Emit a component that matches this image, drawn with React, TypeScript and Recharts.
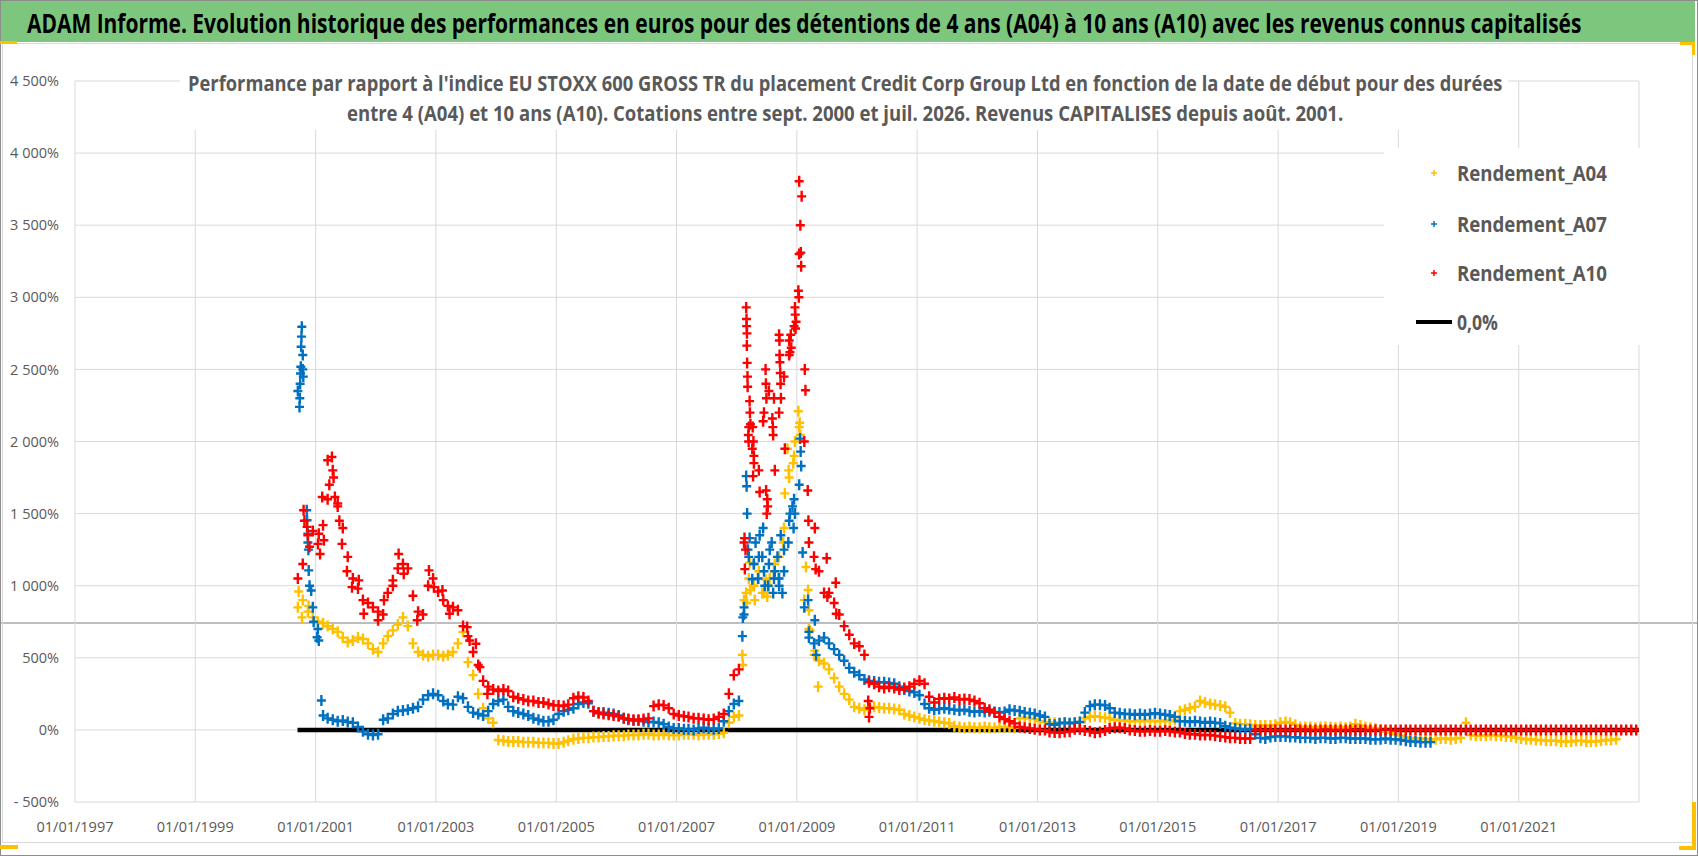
import { useLayoutEffect, useRef, useState } from "react";
import { ComposedChart, Scatter, Line, XAxis, YAxis, CartesianGrid } from "recharts";

// ---- data (monthly values, % vs the index) ----
const SERIES_START = "2000-09"; // first month of every series

const A04 = [
  850, 900, 820, 780,
  750, 740, 720, 700, 680, 640, 610, 620, 640, 630, 600, 560,
  540, 600, 650, 690, 730, 780, 720, 600, 540, 520, 510, 520,
  520, 510, 520, 540, 600, 680, 470, 380, 250, 150, 80, 50,
  -70, -75, -80, -80, -80, -85, -85, -85, -90, -90, -90, -95,
  -95, -85, -75, -65, -60, -55, -55, -50, -50, -45, -45, -40,
  -40, -40, -35, -35, -35, -30, -30, -35, -35, -30, -35, -35,
  -35, -30, -30, -30, -35, -30, -30, -30, -25, -20, 50, 90,
  100, 900, 1050, 1000, 1050, 950, 1000, 1100, 1200, 1400, 1750, 1900,
  2100, 900, 700, 520, 480, 460, 420, 360, 300, 250, 210, 160,
  150, 140, 155, 160, 155, 150, 150, 145, 140, 110, 100, 90,
  80, 70, 65, 60, 55, 50, 45, 25, 20, 15, 20, 15,
  15, 20, 15, 15, 20, 20, 20, 15, 80, 85, 80, 75,
  60, 55, 50, 50, 50, 50, 50, 50, 55, 80, 90, 95,
  90, 85, 80, 70, 65, 65, 60, 60, 65, 60, 65, 60,
  60, 65, 60, 70, 130, 140, 150, 160, 200, 190, 180, 175,
  170, 160, 120, 45, 40, 40, 35, 30, 30, 30, 30, 35,
  50, 55, 50, 35, 20, 20, 20, 15, 20, 20, 20, 15,
  20, 15, 20, 40, 30, 20, 15, 10, 0, -10, -20, -30,
  -40, -50, -55, -60, -60, -65, -65, -65, -60, -60, -65, -60,
  -55, 50, -35, -40, -40, -40, -35, -40, -40, -45, -45, -55,
  -60, -65, -65, -70, -70, -75, -75, -75, -80, -80, -80, -75,
  -75, -80, -80, -80, -75, -70, -70, -65,
];

const A07 = [
  2350, 2600, 1300, 850,
  700, 100, 80, 70, 60, 65, 55, 50, 20, -10, -30, -35,
  -30, 70, 80, 110, 130, 135, 140, 150, 160, 210, 240, 250,
  240, 200, 180, 175, 230, 220, 160, 120, 110, 100, 130, 180,
  200, 210, 160, 130, 120, 110, 100, 80, 70, 60, 60, 70,
  110, 130, 140, 150, 180, 190, 185, 130, 120, 120, 115, 110,
  100, 80, 70, 65, 65, 60, 55, 55, 50, 40, 20, 10,
  10, 5, 5, 0, 10, 15, 10, 5, 10, 60, 130, 180,
  200, 800, 1200, 1150, 1200, 1100, 1150, 1050, 1000, 1250, 1450, 1600,
  1700, 850, 640, 600, 620, 640, 600, 560, 520, 480, 430, 400,
  380, 350, 340, 335, 330, 330, 325, 320, 300, 280, 270, 260,
  240, 180, 150, 140, 145, 150, 145, 140, 135, 140, 130, 125,
  130, 125, 130, 125, 120, 125, 140, 135, 130, 120, 115, 110,
  100, 90, 40, 35, 45, 50, 45, 50, 55, 120, 165, 175,
  175, 170, 150, 120, 115, 110, 110, 105, 110, 105, 110, 115,
  110, 105, 100, 90, 60, 60, 55, 60, 55, 50, 55, 50,
  45, 25, 15, 10, 5, 0, 5, -30, -55, -60, -50, -45,
  -45, -45, -50, -50, -55, -55, -55, -60, -55, -55, -60, -60,
  -55, -55, -60, -60, -60, -60, -65, -65, -65, -60, -65, -65,
  -70, -75, -80, -80, -85, -85, -85,
];

const A10 = [
  1050, 1150, 1350, 1380,
  1290, 1420, 1600, 1800, 1550, 1400, 1200, 1050, 980, 900, 880, 850,
  820, 800, 950, 1000, 1120, 1150, 1120, 930, 820, 800, 1000, 1050,
  960, 900, 860, 850, 830, 720, 650, 540, 450, 340, 300, 280,
  270, 280, 270, 230, 220, 210, 200, 200, 190, 190, 180, 170,
  170, 165, 175, 220, 230, 225, 200, 130, 115, 110, 105, 100,
  95, 80, 75, 70, 70, 75, 80, 165, 175, 170, 150, 110,
  100, 95, 90, 80, 80, 75, 70, 75, 90, 110, 250, 380,
  420, 1300, 2100, 1900, 1800, 2200, 2350, 2300, 2200, 2450, 2600, 2800,
  3300, 2000, 1300, 1200, 1100, 950, 950, 880, 800, 720, 660, 600,
  580, 520, 330, 320, 300, 290, 300, 290, 280, 290, 300, 320,
  340, 320, 230, 190, 215, 220, 215, 225, 210, 215, 210, 200,
  185, 150, 140, 120, 90, 75, 60, 45, 20, 15, 10, 5,
  0, 0, -15, -18, -20, -15, -12, 5, 5, -5, -10, -20,
  -15, -5, 10, 15, 15, 10, 0, -5, -10, -10, -5, -10,
  -10, -5, -10, -15, -15, -25, -30, -30, -35, -35, -35, -40,
  -45, -50, -55, -55, -60, -60, -60, 0, 0, 0, 0, 0,
  0, 0, 0, 0, 0, 0, 0, 0, 0, 0, 0, 0,
  0, 0, 0, 0, 0, 0, 0, 0, 0, 0, 0, 0,
  0, 0, 0, 0, 0, 0, 0, 0, 0, 0, 0, 0,
  0, 0, 0, 0, 0, 0, 0, 0, 0, 0, 0, 0,
  0, 0, 0, 0, 0, 0, 0, 0, 0, 0, 0, 0,
  0, 0, 0, 0, 0, 0, 0, 0, 0, 0, 0, 0,
];

// scattered points outside the main band (volatile periods)
const A04_SCATTER: [string, number][] = [
  ["2000-09-20", 960], ["2000-10-10", 780], ["2000-11-20", 860],
  ["2008-02-05", 520], ["2008-02-08", 450], ["2008-02-28", 950], ["2008-03-02", 880],
  ["2008-03-20", 1160], ["2008-03-25", 970], ["2008-04-10", 1000], ["2008-04-20", 900],
  ["2008-05-15", 1100], ["2008-06-05", 950], ["2008-06-25", 1045], ["2008-07-05", 925],
  ["2008-07-20", 1050], ["2008-08-20", 1150], ["2008-09-10", 1050], ["2008-10-10", 1300],
  ["2008-10-20", 1640], ["2008-11-05", 1950], ["2008-11-12", 1800], ["2008-12-10", 1850],
  ["2008-12-20", 2000], ["2009-01-10", 2210], ["2009-01-18", 2130], ["2009-01-22", 2045],
  ["2009-02-25", 1130], ["2009-03-10", 970], ["2009-03-15", 830], ["2009-03-22", 690],
  ["2009-04-20", 550], ["2009-05-10", 300],
];

const A07_SCATTER: [string, number][] = [
  ["2000-09-25", 2240], ["2000-09-27", 2300], ["2000-09-29", 2400], ["2000-10-01", 2472],
  ["2000-10-03", 2518], ["2000-10-05", 2657], ["2000-10-07", 2727], ["2000-10-09", 2796],
  ["2000-10-15", 2500], ["2000-10-18", 2450], ["2000-11-08", 1523], ["2000-11-10", 1454],
  ["2000-11-15", 1360], ["2000-11-18", 1250], ["2000-11-20", 1106], ["2000-11-25", 1000],
  ["2000-12-05", 967], ["2000-12-20", 750], ["2001-01-10", 643], ["2001-01-20", 620],
  ["2001-02-05", 204],
  ["2008-02-05", 650], ["2008-02-08", 780], ["2008-02-15", 850], ["2008-02-28", 1760],
  ["2008-03-02", 1690], ["2008-03-05", 1500], ["2008-03-10", 1250], ["2008-03-20", 1330],
  ["2008-04-05", 1045], ["2008-04-15", 1150], ["2008-04-25", 1300], ["2008-05-10", 1050],
  ["2008-05-20", 1350], ["2008-06-05", 1200], ["2008-06-10", 1400], ["2008-06-20", 1000],
  ["2008-07-10", 1000], ["2008-07-20", 1250], ["2008-08-01", 1300], ["2008-08-10", 950],
  ["2008-08-20", 1100], ["2008-09-05", 1200], ["2008-09-15", 1050], ["2008-09-25", 1350],
  ["2008-10-05", 950], ["2008-10-15", 1100], ["2008-11-10", 1300], ["2008-11-20", 1500],
  ["2008-12-05", 1550], ["2008-12-12", 1400], ["2008-12-20", 1500],
  ["2009-01-20", 2020], ["2009-01-24", 1930], ["2009-01-27", 1830], ["2009-02-05", 1230],
  ["2009-03-10", 900], ["2009-03-15", 680], ["2009-04-20", 760], ["2009-04-28", 520],
];

const A10_SCATTER: [string, number][] = [
  ["2000-10-20", 1523], ["2000-10-25", 1450], ["2000-11-10", 1408], ["2000-11-25", 1270],
  ["2001-01-20", 1360], ["2001-01-28", 1220], ["2001-02-10", 1615], ["2001-02-20", 1315],
  ["2001-03-15", 1870], ["2001-03-25", 1700], ["2001-04-10", 1893], ["2001-04-20", 1750],
  ["2001-04-28", 1615], ["2001-05-15", 1570], ["2001-05-25", 1450], ["2001-06-10", 1290],
  ["2001-07-10", 1100], ["2001-08-10", 990], ["2001-09-20", 1037], ["2001-10-20", 805],
  ["2002-01-15", 760], ["2002-02-20", 900], ["2002-04-15", 1037], ["2002-05-20", 1220],
  ["2002-06-20", 1083], ["2002-09-10", 760], ["2002-11-20", 1106], ["2002-12-20", 990],
  ["2003-02-10", 967], ["2003-03-25", 805], ["2003-07-10", 713], ["2003-07-25", 620],
  ["2003-09-01", 597], ["2003-09-25", 435], ["2003-11-10", 250],
  ["2008-02-18", 1330], ["2008-02-20", 1115], ["2008-02-24", 1250], ["2008-02-28", 2930],
  ["2008-03-01", 2850], ["2008-03-02", 2800], ["2008-03-03", 2665], ["2008-03-04", 2750],
  ["2008-03-05", 2545], ["2008-03-07", 2450], ["2008-03-08", 2380], ["2008-03-12", 2045],
  ["2008-03-14", 2000], ["2008-03-20", 2280], ["2008-03-22", 2200], ["2008-03-25", 2120],
  ["2008-04-05", 1950], ["2008-04-08", 2100], ["2008-04-10", 1760], ["2008-04-12", 2000],
  ["2008-04-15", 1850], ["2008-05-20", 1650], ["2008-06-10", 2140], ["2008-06-25", 2500],
  ["2008-06-27", 2400], ["2008-06-28", 1660], ["2008-06-30", 2300], ["2008-07-02", 1500],
  ["2008-07-05", 1600], ["2008-07-08", 1550], ["2008-08-05", 2160], ["2008-08-08", 2100],
  ["2008-08-10", 2045], ["2008-08-20", 1800], ["2008-09-15", 2740], ["2008-09-17", 2700],
  ["2008-09-18", 2600], ["2008-09-20", 2550], ["2008-09-22", 2475], ["2008-09-24", 2400],
  ["2008-09-26", 2300], ["2008-10-20", 1950], ["2008-11-15", 2700], ["2008-11-20", 2620],
  ["2008-11-25", 2740], ["2008-11-28", 2650], ["2008-12-20", 2930], ["2008-12-22", 2880],
  ["2008-12-24", 2784], ["2008-12-27", 2830], ["2009-01-10", 3045], ["2009-01-13", 3000],
  ["2009-01-15", 3805], ["2009-01-22", 3500], ["2009-01-25", 3310], ["2009-01-27", 3215],
  ["2009-01-30", 3700], ["2009-02-18", 2500], ["2009-02-22", 2355], ["2009-03-08", 1660],
  ["2009-03-12", 1450], ["2009-04-20", 1400], ["2009-04-25", 1115], ["2009-07-01", 1190],
  ["2009-07-05", 925], ["2009-08-25", 1020], ["2009-08-28", 805],
  ["2010-03-10", 200], ["2010-03-15", 90], ["2010-03-20", 150],
];

const ZERO_LINE_DATES = ["2000-09-13", "2022-12-31"];
const ZERO_LINE_VALUE = 0;

const X_TICK_YEARS = [1997, 1999, 2001, 2003, 2005, 2007, 2009, 2011, 2013, 2015, 2017, 2019, 2021];
const X_DOMAIN_YEARS = [1997, 2023];
const Y_TICKS = [-500, 0, 500, 1000, 1500, 2000, 2500, 3000, 3500, 4000, 4500];

const TITLE =
  "ADAM Informe. Evolution historique des performances en euros pour des détentions de 4 ans (A04) à 10 ans (A10) avec les revenus connus capitalisés";
const SUBTITLE_1 =
  "Performance par rapport à l'indice EU STOXX 600 GROSS TR  du placement Credit Corp Group Ltd en fonction de la date de début pour des durées";
const SUBTITLE_2 =
  "entre 4 (A04) et 10 ans (A10). Cotations entre sept. 2000 et juil. 2026. Revenus CAPITALISES depuis août. 2001.";

const SERIES = [
  { name: "Rendement_A04", color: "#FFC000", values: A04, extra: A04_SCATTER },
  { name: "Rendement_A07", color: "#0070C0", values: A07, extra: A07_SCATTER },
  { name: "Rendement_A10", color: "#FF0000", values: A10, extra: A10_SCATTER },
];

// ---- helpers ----
const dateToTime = (s: string) => {
  const [y, m, d] = s.split("-").map(Number);
  return Date.UTC(y, m - 1, d);
};

const buildPoints = (values: number[], extra: [string, number][]) => {
  const [y0, m0] = SERIES_START.split("-").map(Number);
  const monthly = values.map((v, i) => ({ x: Date.UTC(y0, m0 - 1 + i, 15), y: v }));
  const scattered = extra.map(([d, v]) => ({ x: dateToTime(d), y: v }));
  return [...monthly, ...scattered];
};

const zeroLine = ZERO_LINE_DATES.map((d) => ({ x: dateToTime(d), y: ZERO_LINE_VALUE }));

const xTicks = X_TICK_YEARS.map((y) => Date.UTC(y, 0, 1));
const xDomain = X_DOMAIN_YEARS.map((y) => Date.UTC(y, 0, 1));

const pad2 = (n: number) => String(n).padStart(2, "0");
const formatDate = (t: number) => {
  const d = new Date(t);
  return `${pad2(d.getUTCDate())}/${pad2(d.getUTCMonth() + 1)}/${d.getUTCFullYear()}`;
};

const formatPct = (v: number) => {
  const a = Math.abs(v);
  const s = a >= 1000 ? `${Math.floor(a / 1000)}\u00a0${String(a % 1000).padStart(3, "0")}` : `${a}`;
  return v < 0 ? `-\u00a0${s}%` : `${s}%`;
};

// "+" marker, a bit taller than wide like the dense Excel markers
const crossShape = (color: string) => (props: any) => {
  const { cx, cy } = props;
  if (cx == null || cy == null) return <g />;
  return (
    <path
      d={`M${cx - 4.5},${cy}H${cx + 4.5}M${cx},${cy - 5.5}V${cy + 5.5}`}
      stroke={color}
      strokeWidth={2.4}
      fill="none"
    />
  );
};

// squeezes a single-line svg text horizontally so that it spans `width`
const FitText = ({ x, y, width, children, ...rest }: any) => {
  const ref = useRef<SVGTextElement>(null);
  const [sx, setSx] = useState(1);
  useLayoutEffect(() => {
    if (ref.current) {
      const w = ref.current.getComputedTextLength();
      if (w > 0) setSx(width / w);
    }
  }, [width, children]);
  return (
    <text ref={ref} transform={`translate(${x},${y}) scale(${sx},1)`} {...rest}>
      {children}
    </text>
  );
};

const tickStyle = { fill: "#595959", fontSize: 14.5, fontFamily: "Open Sans" };
const GOLD = "#FFC000";

const LEGEND_ROWS = [173, 224, 273];

const App = () => {
  return (
    <div
      style={{
        position: "absolute",
        left: 0,
        top: 0,
        width: 1698,
        height: 856,
        background: "#fff",
        overflow: "hidden",
        fontFamily: "Open Sans",
      }}
    >
      {/* stray horizontal rule visible in the original screenshot */}
      <div style={{ position: "absolute", left: 0, top: 622, width: 1698, height: 2, background: "#bdbdbd" }} />

      <div style={{ position: "absolute", left: 0, top: 0 }}>
        <ComposedChart width={1698} height={856} margin={{ top: 81, right: 59, bottom: 14, left: 15 }}>
          <CartesianGrid stroke="#d9d9d9" strokeWidth={1} />
          <XAxis
            dataKey="x"
            type="number"
            domain={xDomain}
            ticks={xTicks}
            interval={0}
            allowDataOverflow
            tickFormatter={formatDate}
            axisLine={false}
            tickLine={false}
            tickMargin={14}
            height={40}
            tick={tickStyle}
          />
          <YAxis
            dataKey="y"
            type="number"
            domain={[-500, 4500]}
            ticks={Y_TICKS}
            interval={0}
            allowDataOverflow
            tickFormatter={formatPct}
            axisLine={false}
            tickLine={false}
            tickMargin={10}
            width={60}
            tick={tickStyle}
          />
          {SERIES.slice(0, 2).map((s) => (
            <Scatter
              key={s.name}
              name={s.name}
              data={buildPoints(s.values, s.extra)}
              fill={s.color}
              shape={crossShape(s.color)}
              isAnimationActive={false}
            />
          ))}
          <Line
            name="0,0%"
            data={zeroLine}
            dataKey="y"
            type="linear"
            stroke="#000"
            strokeWidth={4.5}
            dot={false}
            activeDot={false}
            isAnimationActive={false}
          />
          <Scatter
            name={SERIES[2].name}
            data={buildPoints(SERIES[2].values, SERIES[2].extra)}
            fill={SERIES[2].color}
            shape={crossShape(SERIES[2].color)}
            isAnimationActive={false}
          />
        </ComposedChart>
      </div>

      {/* frame, titles and legend */}
      <svg
        width={1698}
        height={856}
        style={{ position: "absolute", left: 0, top: 0, pointerEvents: "none" }}
      >
        <rect x={1} y={1} width={1694} height={41} fill="#7DC67E" />
        <FitText x={27} y={33} width={1555} fontSize={26} fontWeight="bold" fill="#000" fontFamily="Open Sans">
          {TITLE}
        </FitText>
        <rect x={2.5} y={43.5} width={1690} height={799} fill="none" stroke="#d9d9d9" />
        <rect x={0.5} y={0.5} width={1697} height={855} fill="none" stroke="#8c8c8c" />

        {/* subtitle box */}
        <rect x={180} y={62} width={1328} height={68} fill="#fff" />
        <FitText x={188} y={91} width={1315} fontSize={21} fontWeight="bold" fill="#595959" fontFamily="Open Sans">
          {SUBTITLE_1}
        </FitText>
        <FitText x={347} y={121} width={997} fontSize={21} fontWeight="bold" fill="#595959" fontFamily="Open Sans">
          {SUBTITLE_2}
        </FitText>

        {/* legend */}
        <rect x={1384} y={148} width={256} height={197} fill="#fff" />
        {SERIES.map((s, i) => (
          <g key={s.name}>
            <path
              d={`M1431,${LEGEND_ROWS[i]}H1437M1434,${LEGEND_ROWS[i] - 3}V${LEGEND_ROWS[i] + 3}`}
              stroke={s.color}
              strokeWidth={1.5}
            />
            <FitText
              x={1457}
              y={LEGEND_ROWS[i] + 8}
              width={150}
              fontSize={22}
              fontWeight="bold"
              fill="#595959"
              fontFamily="Open Sans"
            >
              {s.name}
            </FitText>
          </g>
        ))}
        <line x1={1416} y1={322} x2={1452} y2={322} stroke="#000" strokeWidth={4} />
        <FitText x={1457} y={330} width={41} fontSize={22} fontWeight="bold" fill="#595959" fontFamily="Open Sans">
          0,0%
        </FitText>

        {/* selection handles */}
        <rect x={0} y={41} width={17} height={3} fill={GOLD} />
        <rect x={1680} y={42} width={15} height={3} fill={GOLD} />
        <rect x={1692} y={42} width={3} height={13} fill={GOLD} />
        <rect x={0} y={845} width={18} height={4} fill={GOLD} />
        <rect x={1692} y={802} width={4} height={48} fill={GOLD} />
        <rect x={1679} y={846} width={17} height={4} fill={GOLD} />
      </svg>
    </div>
  );
};

export default App;
